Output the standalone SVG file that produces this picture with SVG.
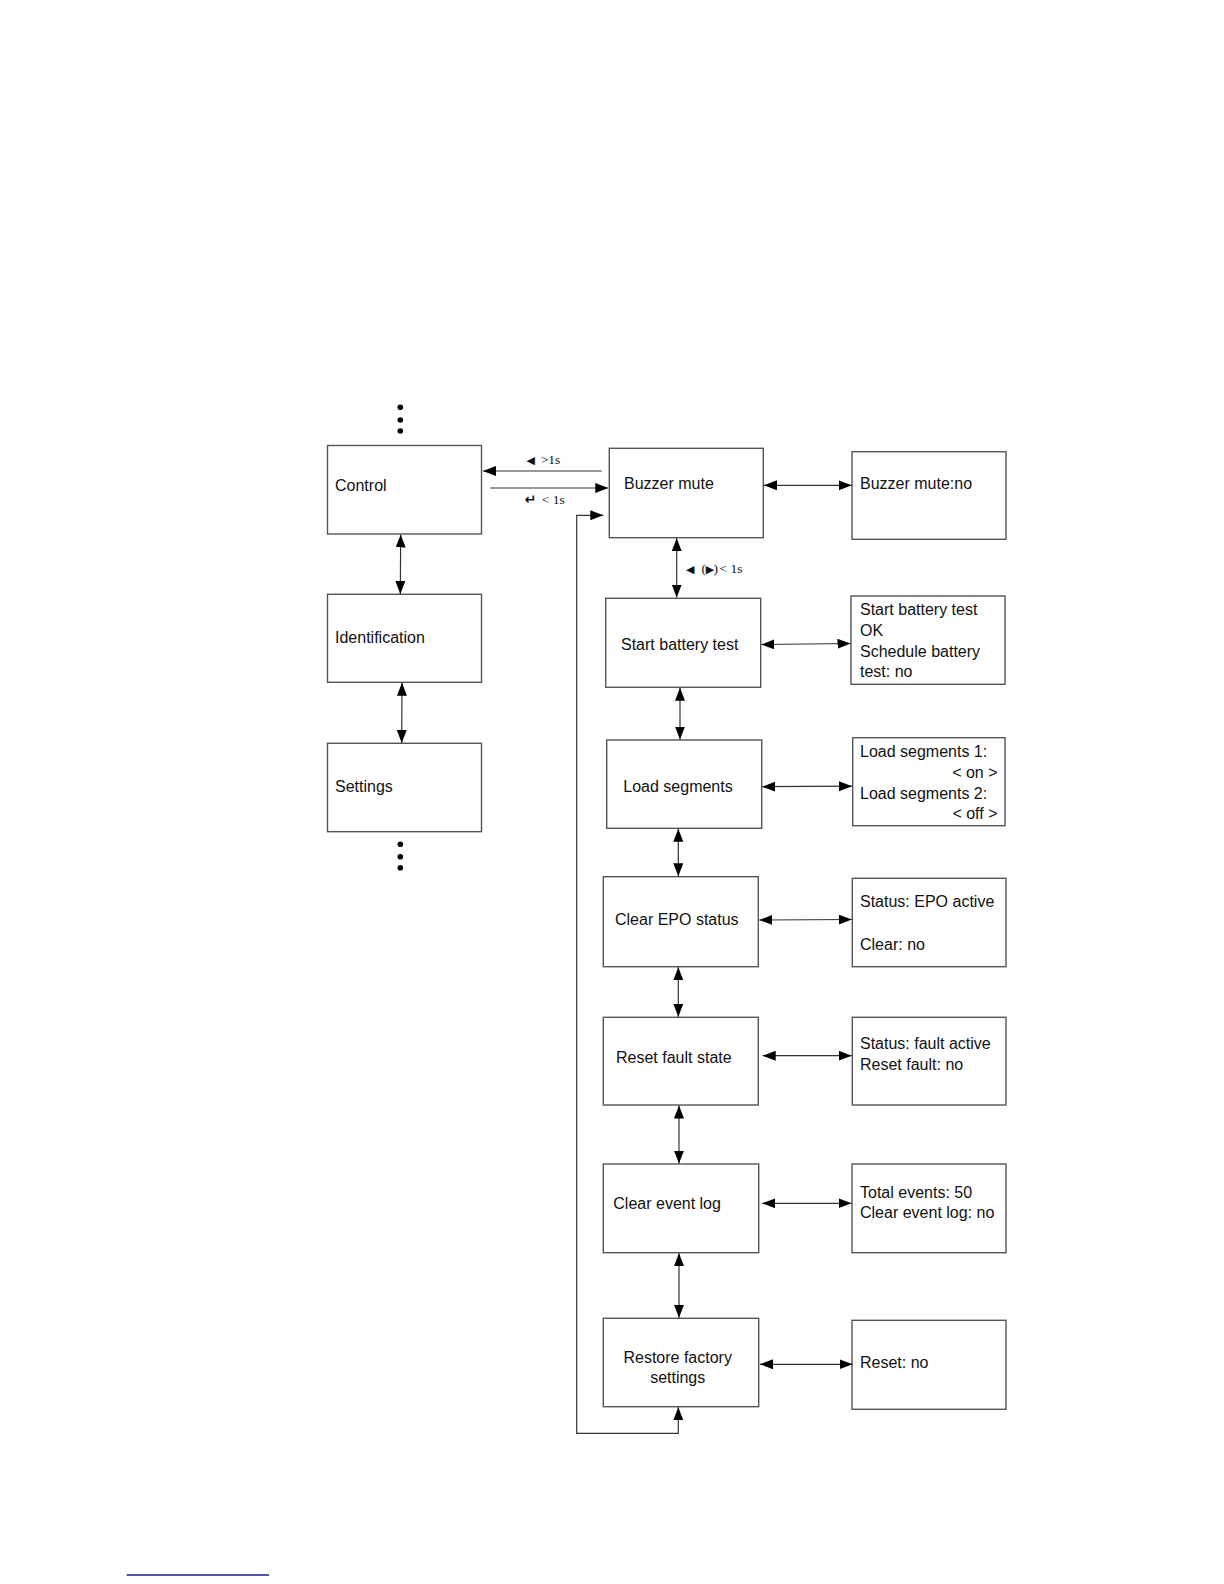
<svg xmlns="http://www.w3.org/2000/svg" width="1224" height="1584" viewBox="0 0 1224 1584">
<style>
.box{fill:#fff;stroke:#555;stroke-width:1.4}
.t{font-family:"Liberation Sans",Arial,sans-serif;font-size:16px;fill:#111}
.lb{font-family:"Liberation Serif","DejaVu Serif",serif;font-size:13.5px;fill:#111}
.sym{font-family:"DejaVu Sans",sans-serif;font-size:11px}
.ret{font-family:"DejaVu Sans",sans-serif;font-size:14px;font-weight:bold}
.c{fill:none;stroke:#333;stroke-width:1.2;marker-end:url(#ah)}
.d{fill:none;stroke:#333;stroke-width:1.2;marker-start:url(#ah);marker-end:url(#ah)}
.dot{fill:#000}
</style>
<defs>
<marker id="ah" markerUnits="userSpaceOnUse" markerWidth="14" markerHeight="11" refX="13" refY="5" orient="auto-start-reverse">
<path d="M0,0 L13,5 L0,10 z" fill="#000"/>
</marker>
</defs>
<rect width="1224" height="1584" fill="#fff"/>

<g id="dots-top"><circle class="dot" cx="400.3" cy="407.3" r="2.8"/><circle class="dot" cx="400.3" cy="420" r="2.8"/><circle class="dot" cx="400.3" cy="431" r="2.8"/></g>
<g id="dots-bottom"><circle class="dot" cx="400.3" cy="844.3" r="2.8"/><circle class="dot" cx="400.3" cy="856.7" r="2.8"/><circle class="dot" cx="400.3" cy="867.7" r="2.8"/></g>

<g id="control"><rect class="box" x="327.5" y="445.5" width="154" height="88.5"/><text class="t" x="335" y="491">Control</text></g>
<g id="identification"><rect class="box" x="327.5" y="594.3" width="154" height="88"/><text class="t" x="335" y="643">Identification</text></g>
<g id="settings"><rect class="box" x="327.5" y="743.3" width="154" height="88.4"/><text class="t" x="335" y="792">Settings</text></g>

<g id="buzzer-mute"><rect class="box" x="609.3" y="448.3" width="154" height="89.4"/><text class="t" x="624" y="489">Buzzer mute</text></g>
<g id="buzzer-mute-no"><rect class="box" x="852" y="451.7" width="154" height="87.6"/><text class="t" x="860" y="489">Buzzer mute:no</text></g>

<g id="start-battery-test"><rect class="box" x="605.7" y="598.3" width="155" height="89"/><text class="t" x="621" y="650">Start battery test</text></g>
<g id="start-battery-test-detail"><rect class="box" x="851" y="596" width="154" height="88.3"/>
<text class="t" x="860" y="615">Start battery test</text><text class="t" x="860" y="636">OK</text><text class="t" x="860" y="657">Schedule battery</text><text class="t" x="860" y="677">test: no</text></g>

<g id="load-segments"><rect class="box" x="606.7" y="740" width="155" height="88.3"/><text class="t" x="623.3" y="791.7">Load segments</text></g>
<g id="load-segments-detail"><rect class="box" x="852.7" y="737.7" width="152.3" height="88"/>
<text class="t" x="860" y="757">Load segments 1:</text><text class="t" x="997.5" y="777.5" text-anchor="end">&lt; on &gt;</text><text class="t" x="860" y="798.5">Load segments 2:</text><text class="t" x="997.5" y="819" text-anchor="end">&lt; off &gt;</text></g>

<g id="clear-epo"><rect class="box" x="603.3" y="876.7" width="155" height="90"/><text class="t" x="615" y="925">Clear EPO status</text></g>
<g id="clear-epo-detail"><rect class="box" x="852.3" y="878.3" width="153.7" height="88.4"/><text class="t" x="860" y="906.7">Status: EPO active</text><text class="t" x="860" y="950">Clear: no</text></g>

<g id="reset-fault"><rect class="box" x="603.3" y="1017.3" width="155" height="87.7"/><text class="t" x="616" y="1062.7">Reset fault state</text></g>
<g id="reset-fault-detail"><rect class="box" x="852.3" y="1017.3" width="153.7" height="87.7"/><text class="t" x="860" y="1049">Status: fault active</text><text class="t" x="860" y="1070">Reset fault: no</text></g>

<g id="clear-event-log"><rect class="box" x="603.3" y="1164" width="155.4" height="88.7"/><text class="t" x="613.3" y="1209">Clear event log</text></g>
<g id="clear-event-log-detail"><rect class="box" x="852" y="1164" width="154" height="88.7"/><text class="t" x="860" y="1198.3">Total events: 50</text><text class="t" x="860" y="1218.3">Clear event log: no</text></g>

<g id="restore-factory"><rect class="box" x="603.3" y="1318.3" width="155.4" height="88.4"/><text class="t" x="677.7" y="1362.7" text-anchor="middle">Restore factory</text><text class="t" x="677.7" y="1383.3" text-anchor="middle">settings</text></g>
<g id="restore-factory-detail"><rect class="box" x="852" y="1320.3" width="154" height="89"/><text class="t" x="860" y="1368.3">Reset: no</text></g>

<g id="connectors">
<line class="c" x1="601.7" y1="471" x2="483" y2="471"/>
<line class="c" x1="490.3" y1="488" x2="608.3" y2="488"/>
<line class="d" x1="400.7" y1="534.5" x2="400.3" y2="594"/>
<line class="d" x1="402" y1="682.8" x2="401.7" y2="743"/>
<line class="d" x1="764" y1="485.3" x2="851.7" y2="485.3"/>
<line class="d" x1="676.7" y1="538.2" x2="676.7" y2="597.5"/>
<line class="d" x1="761.2" y1="644.5" x2="850.5" y2="643.5"/>
<line class="d" x1="680" y1="687.8" x2="680" y2="739.5"/>
<line class="d" x1="762.2" y1="786.7" x2="852" y2="786.2"/>
<line class="d" x1="678.3" y1="828.8" x2="678.3" y2="876.2"/>
<line class="d" x1="759.3" y1="920" x2="851.8" y2="919.5"/>
<line class="d" x1="678.3" y1="967.2" x2="678.3" y2="1016.8"/>
<line class="d" x1="762.7" y1="1055.7" x2="851.7" y2="1055.7"/>
<line class="d" x1="679" y1="1105.5" x2="679" y2="1163.5"/>
<line class="d" x1="762.3" y1="1203.3" x2="851.5" y2="1203.3"/>
<line class="d" x1="679" y1="1253.2" x2="679" y2="1317.8"/>
<line class="d" x1="760" y1="1364.3" x2="852.5" y2="1364.3"/>
<path class="d" d="M603.3,515.3 L576.7,515.3 L576.7,1433.3 L678.3,1433.3 L678.3,1407.2"/>
<text class="lb" y="464"><tspan class="sym" x="526.5">◀</tspan><tspan x="540.7">&gt;1s</tspan></text>
<text class="lb" y="504.3"><tspan class="ret" x="524.5">↵</tspan><tspan x="541.7">&lt; 1s</tspan></text>
<text class="lb" y="573.3"><tspan class="sym" x="686">◀</tspan><tspan x="701.5">(</tspan><tspan class="sym" x="705.8">▶</tspan><tspan x="713.5">)</tspan><tspan x="719.5">&lt; 1s</tspan></text>
</g>

<line x1="126.7" y1="1575" x2="269" y2="1575" stroke="#1b1b8f" stroke-width="1.5"/>
</svg>
